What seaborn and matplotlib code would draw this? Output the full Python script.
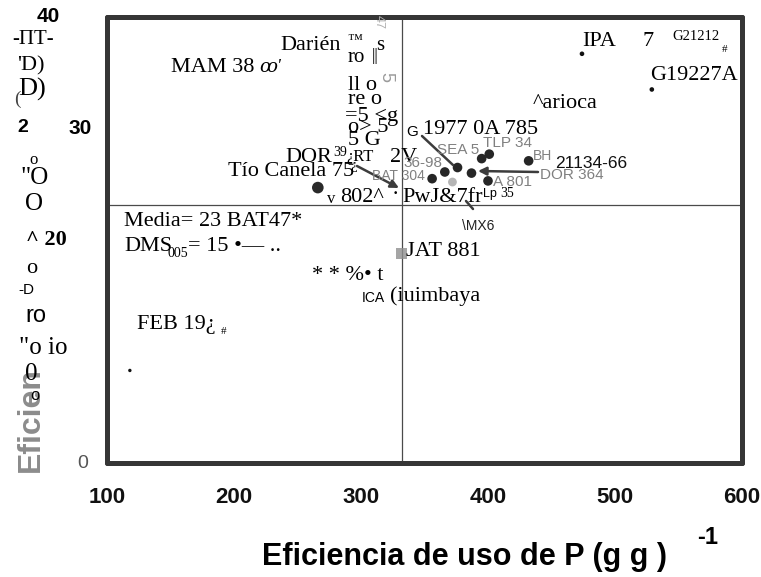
import matplotlib
matplotlib.use("Agg")
import matplotlib.pyplot as plt
import seaborn as sns
import pandas as pd

# Eficiencia de uso de P (g g-1) y rendimiento de los genotipos
efp_grupo = [356, 366, 376, 387, 395, 401, 400, 432]
rend_grupo = [25.5, 26.1, 26.5, 26.0, 27.3, 27.7, 25.3, 27.1]
efp_aislados = [474, 529, 118]
rend_aislados = [36.7, 33.5, 8.3]
efp_canela = [266]
rend_canela = [24.7]
efp_jat = [332]
rend_jat = [18.8]
efp_tenue = [372]
rend_tenue = [25.2]

media_rend = 23.1
media_efp = 332

x_ticks = [100, 200, 300, 400, 500, 600]
y_ticks = [0, 10, 20, 30, 40]

W, H = 761, 577
sns.set_style("white")
plt.rcParams["font.family"] = ["Liberation Serif", "DejaVu Serif"]

fig = plt.figure(figsize=(W / 100, H / 100), dpi=100)
ax = fig.add_axes([107 / W, 1 - 463 / H, (742 - 107) / W, (463 - 17) / H])

spine_col = "#363636"
for sp in ax.spines.values():
    sp.set_linewidth(3.6)
    sp.set_color(spine_col)
    sp.set_capstyle("round")

ax.set_xlim(100, 600)
ax.set_ylim(0, 40)

# referencias de las medias
ax.axhline(media_rend, color="#4a4a4a", lw=0.9, zorder=1)
ax.axvline(media_efp, color="#4a4a4a", lw=0.9, zorder=1)

df_g = pd.DataFrame({"efp": efp_grupo, "rend": rend_grupo})
df_a = pd.DataFrame({"efp": efp_aislados, "rend": rend_aislados})
sns.scatterplot(data=df_g, x="efp", y="rend", ax=ax, s=48, color="#262626",
                edgecolor="none", zorder=4, legend=False)
sns.scatterplot(data=df_a.iloc[:2], x="efp", y="rend", ax=ax, s=11, color="#111111",
                edgecolor="none", zorder=4, legend=False)
sns.scatterplot(data=df_a.iloc[2:], x="efp", y="rend", ax=ax, s=6, color="#111111",
                edgecolor="none", zorder=4, legend=False)
sns.scatterplot(x=efp_canela, y=rend_canela, ax=ax, s=70, color="#2a2a2a",
                edgecolor="none", zorder=4, legend=False)
sns.scatterplot(x=efp_jat, y=rend_jat, ax=ax, s=60, marker="s", color="#8f8f8f",
                edgecolor="none", alpha=0.8, zorder=3, legend=False)
sns.scatterplot(x=efp_tenue, y=rend_tenue, ax=ax, s=40, color="#b5b5b5",
                edgecolor="none", zorder=3, legend=False)

ax.set_xticks(x_ticks)
ax.set_xticklabels([str(v) for v in x_ticks], fontfamily="Liberation Sans",
                   fontweight="bold", fontsize=16, color="#111111")
ax.set_yticks(y_ticks)
ax.set_yticklabels([])
ax.tick_params(axis="x", direction="out", length=6, width=3.6, color=spine_col, pad=11)
ax.tick_params(axis="y", direction="out", length=6, width=3.6, color=spine_col)
ax.set_xlabel("")
ax.set_ylabel("")


def px2data(px, py):
    return 100 + (px - 107) / 1.27, (463 - py) / 11.15


def T(px, py, s, size=16, family="serif", color="black", ha="left", va="center", **kw):
    fam = ["Liberation Serif", "DejaVu Serif"] if family == "serif" else ["Liberation Sans", "DejaVu Sans"]
    fig.text(px / W, 1 - py / H, s, fontsize=size, family=fam, color=color,
             ha=ha, va=va, **kw)


def arrow(p0, p1, head=True):
    ax.annotate("", xy=px2data(*p1), xytext=px2data(*p0),
                arrowprops=dict(arrowstyle="-|>" if head else "-", color="#3c3c3c",
                                lw=1.8, mutation_scale=12, shrinkA=0, shrinkB=0),
                zorder=5)


gray = "#808080"
# rótulos de genotipos
T(280, 46, "Darién", 16)
T(347, 40, "™", 11)
T(376, 46, "s", 15)
T(348, 57, "ro", 15)
T(372, 56, "||", 12)
T(373, 22, "47", 9, family="sans", color="#b0b0b0", rotation=270)
T(386, 77, "5", 13, family="sans", color="#9a9a9a", rotation=270, ha="center")
T(171, 68, "MAM 38", 16)
T(260, 68, "ꝏ'", 13, style="italic")
T(348, 86, "ll o", 16)
T(348, 100, "re o", 16)
T(345, 116, "=5 <g", 16)
T(348, 128, "o> 5", 16)
T(348, 141, "5 G", 16)
T(285, 158, "DOR", 16)
T(333, 152, "39", 10)
T(346, 157, "¿RT", 12)
T(390, 158, "2V", 16)
T(228, 172, "Tío Canela 75", 16)
T(350, 165, "¿", 11)
T(327, 199, "v", 12)
T(340, 197, "802^", 16)
T(392, 196, "·", 16)
T(402, 197, "PwJ&7fr", 16)
T(483, 194, "Lp", 9, family="sans")
T(500, 193, "35", 10)
T(406, 132, "G", 11, family="sans")
T(423, 129, "1977 0A 785", 16)
T(437, 150, "SEA 5", 11, family="sans", color=gray)
T(483, 143, "TLP 34", 11, family="sans", color=gray)
T(533, 156, "BH", 10, family="sans", color=gray)
T(555, 163, "21134-66", 12.5, family="sans", color="#111111")
T(540, 175, "DOR 364", 11, family="sans", color=gray)
T(493, 182, "A 801", 11, family="sans", color=gray)
T(403, 163, "36-98", 11, family="sans", color=gray)
T(372, 176, "BAT 304", 10, family="sans", color=gray)
T(462, 226, "\\MX6", 10, family="sans", color="#222222")
T(406, 252, "JAT 881", 16)
T(533, 104, "^arioca", 16)
T(582, 41, "IPA", 16)
T(642, 41, "7", 16)
T(672, 37, "G21212", 10.5)
T(722, 49, "#", 8)
T(650, 76, "G19227A", 16)
T(124, 222, "Media= 23 BAT47*", 16)
T(124, 247, "DMS", 16)
T(168, 253, "005", 10)
T(188, 247, "= 15 •— ..", 16)
T(312, 276, "* * %• t", 16)
T(362, 298, "ICA", 10, family="sans")
T(390, 296, "(iuimbaya", 16)
T(137, 324, "FEB 19¿", 16)
T(221, 331, "#", 8)

# flechas de rótulos
arrow((357, 166), (399, 188))
arrow((422, 136), (453, 165), head=False)
arrow((538, 172), (478, 171))
arrow((466, 201), (473, 209), head=False)

# eje y
T(31, 472, "Eficien", 23, family="sans", fontweight="bold", color="#8c8c8c",
  rotation=90, va="bottom", ha="center")
T(48, 17, "40", 15, family="sans", fontweight="bold", ha="center")
T(12, 40, "-ПТ-", 15)
T(17, 66, "'D)", 16)
T(18, 89, "D)", 19)
T(14, 99, "(", 14, color="#444444")
T(23, 128, "2", 14, family="sans", fontweight="bold", ha="center")
T(80, 128, "30", 15, family="sans", fontweight="bold", ha="center")
T(29, 160, "o", 12)
T(20, 178, "\"O", 18)
T(25, 204, "O", 18)
T(26, 240, "^ 20", 16, fontweight="bold")
T(26, 268, "o", 16)
T(18, 290, "-D", 11, family="sans")
T(25, 316, "ro", 17, family="sans")
T(19, 348, "\"o io", 18)
T(25, 374, "0", 18)
T(30, 396, "o", 12, family="sans")
T(83, 463, "0", 14, family="sans", color="#555555", ha="center")

# eje x
T(464, 557, "Eficiencia de uso de P (g g )", 22, family="sans", fontweight="bold",
  ha="center")
T(708, 537, "-1", 17, family="sans", fontweight="bold", ha="center")

fig.savefig("out.png", dpi=100, facecolor="white")
